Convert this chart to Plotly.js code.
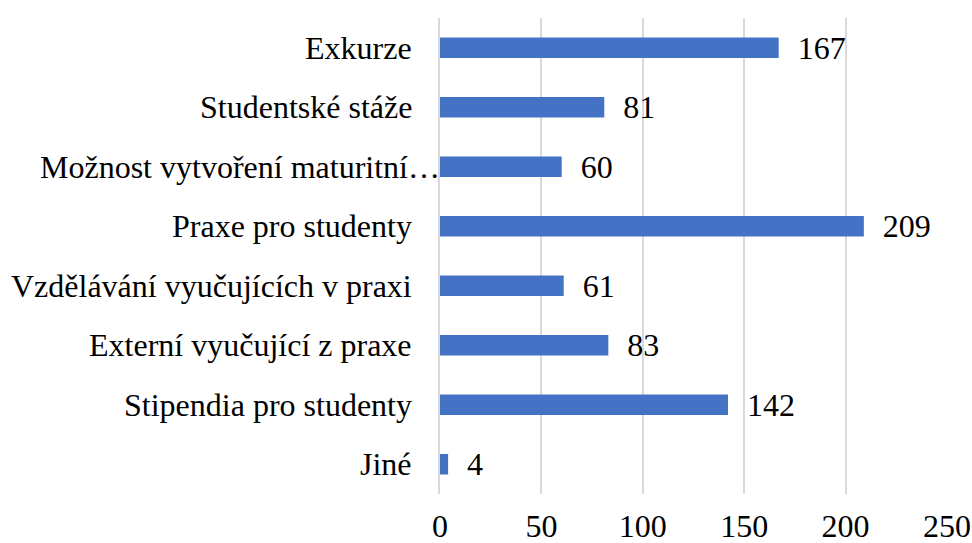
<!DOCTYPE html>
<html><head><meta charset="utf-8">
<script src="https://cdn.plot.ly/plotly-3.0.1.min.js"></script>
<style>html,body{margin:0;padding:0;background:#fff}#chart{width:972px;height:543px}</style>
</head><body><div id="chart"></div>
<script>
const categories = ["Exkurze","Studentské stáže","Možnost vytvoření maturitní…","Praxe pro studenty","Vzdělávání vyučujících v praxi","Externí vyučující z praxe","Stipendia pro studenty","Jiné"];
const values = [167,81,60,209,61,83,142,4];
const xTicks = [0,50,100,150,200,250];

const font = {family:"Times New Roman, Liberation Serif, serif", size:32, color:"#000"};

// Category labels drawn as annotations so a truncated label (ending with "…") can overflow
// toward the axis, as in the original spreadsheet chart.
const catLabels = categories.map(c => ({
  x: 0, xref: 'x', y: c, yref: 'y',
  text: c, showarrow: false, xanchor: 'right', yanchor: 'middle',
  xshift: c.endsWith('…') ? 2 : -26, font: font
}));

Plotly.newPlot('chart',[{
  type:'bar', orientation:'h',
  x: values, y: categories,
  marker:{color:'#4472C4'},
  text: values.map(v=>'\u00a0\u00a0'+v),
  textposition:'outside', cliponaxis:false, constraintext:'none',
  textfont: font,
  hoverinfo:'none'
}],{
  width:972, height:543,
  margin:{l:440,r:25,t:18,b:49},
  paper_bgcolor:'#fff', plot_bgcolor:'#fff',
  font: font,
  showlegend:false,
  bargap:0.655,
  annotations: catLabels,
  xaxis:{range:[0,250], tickvals:xTicks, showgrid:true, gridcolor:'#D9D9D9', gridwidth:2,
         zeroline:false, showline:false, ticks:'', tickfont:font, ticklabelstandoff:10, fixedrange:true},
  yaxis:{type:'category', autorange:'reversed', showgrid:false, zeroline:false,
         showline:true, linecolor:'#D9D9D9', linewidth:2, ticks:'', showticklabels:false,
         fixedrange:true}
},{staticPlot:true});
</script></body></html>
